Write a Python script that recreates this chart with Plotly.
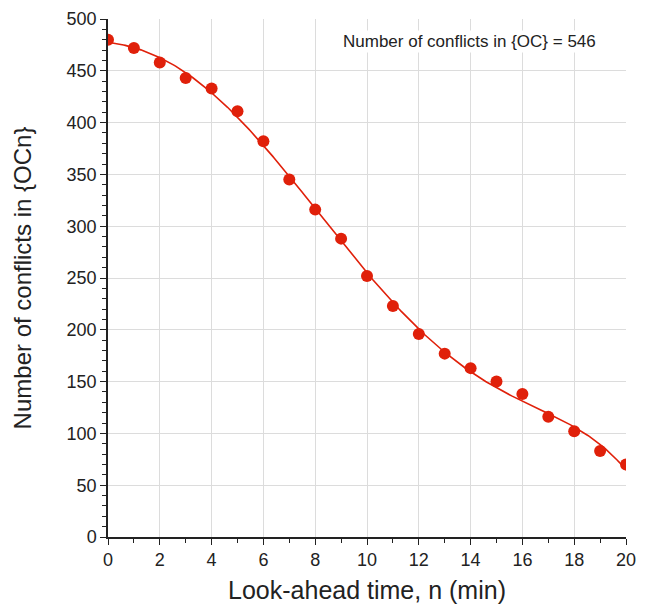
import numpy as np
import plotly.graph_objects as go

n_minutes = list(range(0, 21))
conflicts = [480, 472, 458, 443, 433, 411, 382, 345, 316, 288, 252,
             223, 196, 177, 163, 150, 138, 116, 102, 83, 70]
annotation_text = "Number of conflicts in {OC} = 546"

# smooth fit curve (polynomial fit of the data)
coef = np.polyfit(n_minutes, conflicts, 5)
xf = np.linspace(0, 20, 300)
yf = np.polyval(coef, xf)

red = "#e0200a"
fig = go.Figure()
fig.add_trace(go.Scatter(x=xf, y=yf, mode="lines",
                         line=dict(color=red, width=1.6), hoverinfo="skip"))
fig.add_trace(go.Scatter(x=n_minutes, y=conflicts, mode="markers",
                         marker=dict(color=red, size=12)))

font = "Liberation Sans, Arial, Helvetica, sans-serif"
fig.update_layout(
    width=648, height=606,
    margin=dict(l=100, r=30, t=11, b=77),
    paper_bgcolor="white", plot_bgcolor="white",
    showlegend=False,
    font=dict(family=font, color="#222"),
    xaxis=dict(range=[0, 20], dtick=2, showgrid=True, gridcolor="#dcdcdc",
               gridwidth=1, showline=True, linecolor="#222", linewidth=1.5,
               ticks="outside", ticklen=6, tickcolor="#222", automargin=False,
               minor=dict(dtick=1, ticks="outside", ticklen=4, tickcolor="#222", showgrid=False),
               tickfont=dict(size=18),
               title=dict(text="Look-ahead time, n (min)", font=dict(size=25), standoff=12),
               zeroline=False),
    yaxis=dict(range=[0, 500], dtick=50, showgrid=True, gridcolor="#dcdcdc",
               gridwidth=1, showline=True, linecolor="#222", linewidth=1.5,
               ticks="outside", ticklen=6, tickcolor="#222", automargin=False,
               minor=dict(dtick=10, ticks="outside", ticklen=4, tickcolor="#222", showgrid=False),
               tickfont=dict(size=18),
               title=dict(text="Number of conflicts in {OCn}", font=dict(size=24), standoff=28),
               zeroline=False),
    annotations=[dict(text=annotation_text, x=0.945, y=0.957, xref="paper", yref="paper",
                      xanchor="right", yanchor="middle", showarrow=False,
                      font=dict(size=17, color="#222"), bgcolor="white")],
)
fig.write_html("out.html")
